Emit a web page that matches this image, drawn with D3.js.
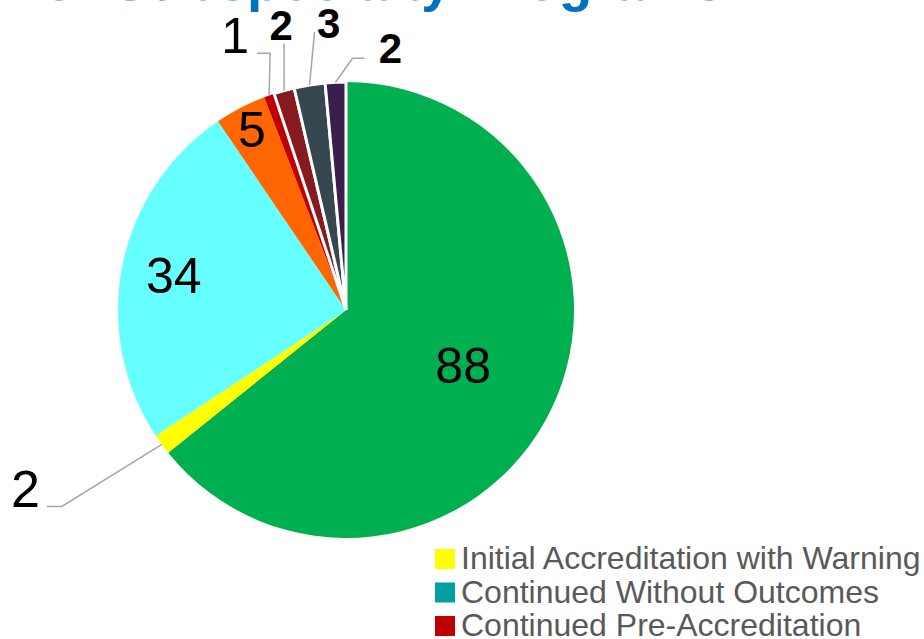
<!DOCTYPE html>
<html>
<head>
<meta charset="utf-8">
<script src="https://cdn.jsdelivr.net/npm/d3@7"></script>
<style>
  body { margin: 0; background: #fff; }
  svg { display: block; font-family: Arial, "Liberation Sans", sans-serif; }
</style>
</head>
<body>
<div id="chart"></div>
<script>
// slice data, in drawing order (clockwise from 12 o'clock)
var sliceNames = ["Full Accreditation", "Initial Accreditation with Warning", "Initial Accreditation",
  "Continued Accreditation with Warning", "Continued Pre-Accreditation", "Probationary Accreditation",
  "Withdrawal", "Other"];
var sliceValues = [88, 2, 34, 5, 1, 2, 3, 2];
var sliceColors = ["#00B050", "#FFFF00", "#66FFFF", "#FF6600", "#C00000", "#861A1E", "#37474F", "#3B1E4B"];

// legend (only the visible part)
var legendNames = ["Initial Accreditation with Warning", "Continued Without Outcomes", "Continued Pre-Accreditation"];
var legendColors = ["#FFFF00", "#00A0A0", "#C00000"];

var titleText = "for Subspecialty Programs";

var WIDTH = 924, HEIGHT = 639;
var CX = 346, CY = 310, R = 228;

// label layout per slice: inside labels use a radius fraction,
// outside labels use a leader line offset from the slice's outer edge
var labelStyle = [
  { inside: true, rf: 0.57, size: 50 },
  { inside: false, pts: [[-100, 62], [-115, 62]], text: [-122, 63], anchor: "end", size: 52 },
  { inside: true, rf: 0.77, size: 50 },
  { inside: true, rf: 0.89, size: 50 },
  { inside: false, pts: [[1, -42], [-12, -42]], text: [-34, -42], anchor: "middle", size: 50 },
  { inside: false, pts: [[0, -47]], text: [-3, -51], anchor: "middle", size: 42, bold: true },
  { inside: false, pts: [[5, -53]], text: [19, -47], anchor: "middle", size: 42, bold: true },
  { inside: false, pts: [[17, -24], [29, -24]], text: [55, -19], anchor: "middle", size: 42, bold: true }
];

var svg = d3.select("#chart").append("svg")
  .attr("width", WIDTH)
  .attr("height", HEIGHT);

// title, cut off at the top
svg.append("text")
  .attr("x", 24)
  .attr("y", 0)
  .attr("font-size", 55)
  .attr("font-weight", "bold")
  .attr("fill", "#0070C0")
  .text(titleText);

var data = sliceValues.map(function (v, i) {
  return { name: sliceNames[i], value: v, color: sliceColors[i], i: i };
});

var pie = d3.pie()
  .sort(null)
  .value(function (d) { return d.value; });

var arc = d3.arc()
  .innerRadius(0)
  .outerRadius(R);

var arcs = pie(data);

var g = svg.append("g")
  .attr("transform", "translate(" + CX + "," + CY + ")");

g.selectAll("path.slice")
  .data(arcs)
  .enter()
  .append("path")
  .attr("class", "slice")
  .attr("d", arc)
  .attr("fill", function (d) { return d.data.color; })
  .attr("stroke", function (d) { return d.data.i >= 5 ? "#fff" : "none"; })
  .attr("stroke-width", 3)
  .attr("stroke-linejoin", "miter");

// edge point of a slice at its mid angle
function edgePoint(d) {
  var a = (d.startAngle + d.endAngle) / 2;
  return [R * Math.sin(a), -R * Math.cos(a)];
}

arcs.forEach(function (d) {
  var s = labelStyle[d.data.i];
  var a = (d.startAngle + d.endAngle) / 2;
  if (s.inside) {
    var r = R * s.rf;
    g.append("text")
      .attr("x", r * Math.sin(a))
      .attr("y", -r * Math.cos(a))
      .attr("text-anchor", "middle")
      .attr("dominant-baseline", "central")
      .attr("font-size", s.size)
      .attr("fill", "#000")
      .text(d.data.value);
  } else {
    var e = edgePoint(d);
    var pts = [e].concat(s.pts.map(function (p) { return [e[0] + p[0], e[1] + p[1]]; }));
    g.append("path")
      .attr("d", d3.line()(pts))
      .attr("fill", "none")
      .attr("stroke", "#A6A6A6")
      .attr("stroke-width", 1.5);
    g.append("text")
      .attr("x", e[0] + s.text[0])
      .attr("y", e[1] + s.text[1])
      .attr("text-anchor", s.anchor)
      .attr("font-size", s.size)
      .attr("font-weight", s.bold ? "bold" : "normal")
      .attr("fill", "#000")
      .text(d.data.value);
  }
});

// legend
var legend = svg.append("g")
  .attr("transform", "translate(435,549)");

var rows = legend.selectAll("g.row")
  .data(legendNames)
  .enter()
  .append("g")
  .attr("class", "row")
  .attr("transform", function (d, i) { return "translate(0," + (i * 33.5) + ")"; });

rows.append("rect")
  .attr("width", 20)
  .attr("height", 20)
  .attr("fill", function (d, i) { return legendColors[i]; });

rows.append("text")
  .attr("x", 26)
  .attr("y", 20)
  .attr("font-size", 32)
  .attr("fill", "#595959")
  .text(function (d) { return d; });
</script>
</body>
</html>
